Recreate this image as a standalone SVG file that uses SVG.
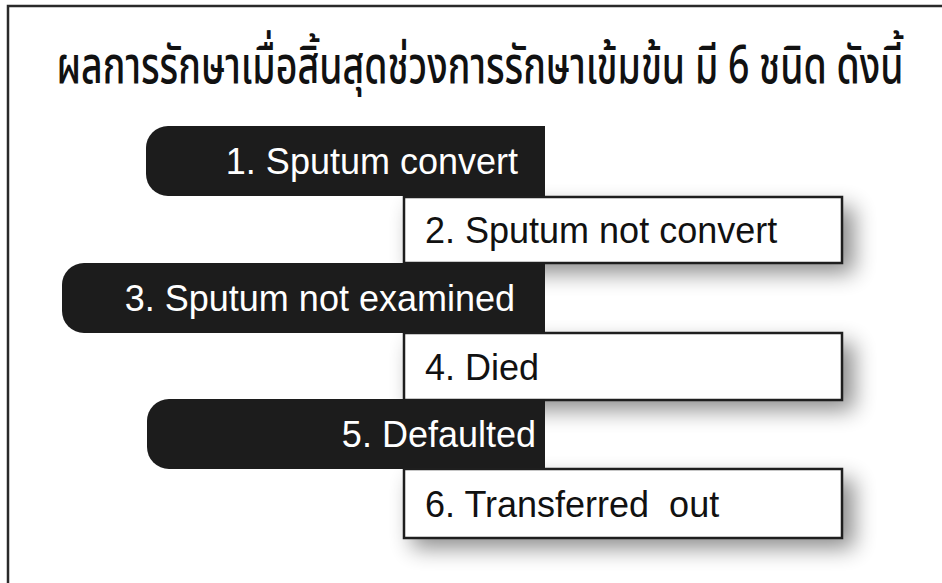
<svg xmlns="http://www.w3.org/2000/svg" width="942" height="583" viewBox="0 0 942 583">
  <defs>
    <filter id="soft" x="-25%" y="-80%" width="150%" height="260%">
      <feGaussianBlur stdDeviation="11"/>
    </filter>
    <style>
      .frame { fill: none; stroke: #2a2a2a; stroke-width: 2.5; }
      .bar { fill: #1c1c1c; }
      .box { fill: #ffffff; stroke: #1e1e1e; stroke-width: 2.5; }
      .shadow { fill: #000000; opacity: 0.45; filter: url(#soft); }
      .title { font-family: "Noto Sans Thai", "Noto Sans", "DejaVu Sans", sans-serif; font-size: 52px; font-weight: 500; fill: #111111; }
      .lbl { font-family: "Liberation Sans", Arial, sans-serif; font-size: 36px; }
      .on-bar { fill: #ffffff; text-anchor: end; }
      .on-box { fill: #111111; }
    </style>
  </defs>

  <rect width="942" height="583" fill="#ffffff"/>

  <!-- frame: only top and left edges fall inside the canvas -->
  <path class="frame" d="M8,583 V6 H942"/>

  <!-- heading, horizontally condensed -->
  <text class="title" transform="translate(480,83) scale(0.72,1)" x="0" y="0" text-anchor="middle">ผลการรักษาเมื่อสิ้นสุดช่วงการรักษาเข้มข้น มี 6 ชนิด ดังนี้</text>

  <!-- soft shadows under the white panels -->
  <g id="shadows">
    <rect class="shadow" x="412" y="207" width="442" height="66"/>
    <rect class="shadow" x="412" y="343" width="442" height="67"/>
    <rect class="shadow" x="412" y="479" width="442" height="69"/>
  </g>

  <g id="item1">
    <path class="bar" d="M545,126 H168 A22,22 0 0 0 146,148 V174 A22,22 0 0 0 168,196 H545 Z"/>
    <text class="lbl on-bar" x="518" y="174">1. Sputum convert</text>
  </g>

  <g id="item2">
    <rect class="box" x="404" y="197" width="438" height="66"/>
    <text class="lbl on-box" x="425" y="243">2. Sputum not convert</text>
  </g>

  <g id="item3">
    <path class="bar" d="M545,263 H84 A22,22 0 0 0 62,285 V311 A22,22 0 0 0 84,333 H545 Z"/>
    <text class="lbl on-bar" x="515" y="311">3. Sputum not examined</text>
  </g>

  <g id="item4">
    <rect class="box" x="404" y="333" width="438" height="67"/>
    <text class="lbl on-box" x="425" y="380">4. Died</text>
  </g>

  <g id="item5">
    <path class="bar" d="M545,399 H169 A22,22 0 0 0 147,421 V447 A22,22 0 0 0 169,469 H545 Z"/>
    <text class="lbl on-bar" x="536" y="447">5. Defaulted</text>
  </g>

  <g id="item6">
    <rect class="box" x="404" y="469" width="438" height="69"/>
    <text class="lbl on-box" x="425" y="517">6. Transferred<tspan dx="10"> out</tspan></text>
  </g>
</svg>
